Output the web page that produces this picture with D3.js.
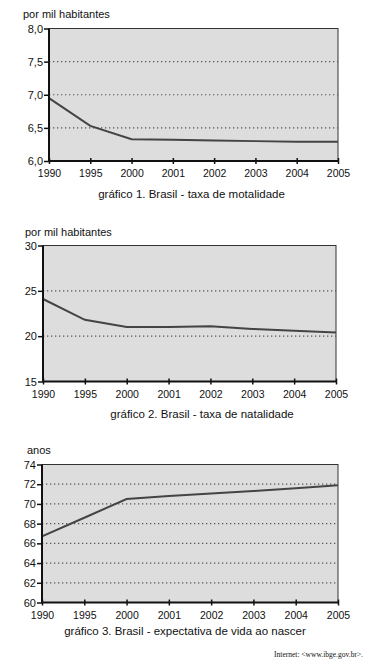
<!DOCTYPE html>
<html>
<head>
<meta charset="utf-8">
<script src="https://cdn.jsdelivr.net/npm/d3@7"></script>
<style>
  body { margin: 0; background: #fff; }
  svg text { font-family: "Liberation Sans", Arial, sans-serif; fill: #111; }
</style>
</head>
<body>
<svg id="chart" width="374" height="667"></svg>
<script>
// Data
var years = ["1990", "1995", "2000", "2001", "2002", "2003", "2004", "2005"];
var mortalidade = [6.95, 6.53, 6.33, 6.32, 6.31, 6.30, 6.29, 6.29];
var natalidade = [24.1, 21.8, 21.0, 21.0, 21.1, 20.8, 20.6, 20.4];
var expectativa = [66.7, 68.6, 70.5, 70.8, 71.05, 71.3, 71.6, 71.9];

var ticksMort = [6.0, 6.5, 7.0, 7.5, 8.0];
var ticksNat = [15, 20, 25, 30];
var ticksVida = [60, 62, 64, 66, 68, 70, 72, 74];

var svg = d3.select("#chart");

// comma decimal like the original
var fmtComma = function(d) { return d3.format(".1f")(d).replace(".", ","); };
var fmtInt = d3.format("d");

function drawChart(cfg) {
    var x = d3.scalePoint().domain(years).range([cfg.left, cfg.right]);
    var y = d3.scaleLinear().domain(d3.extent(cfg.ticks)).range([cfg.bottom, cfg.top]);

    var g = svg.append("g");

    // plot background
    g.append("rect")
        .attr("x", cfg.left)
        .attr("y", cfg.top)
        .attr("width", cfg.right - cfg.left)
        .attr("height", cfg.bottom - cfg.top)
        .attr("fill", "#dddddd")
        .attr("stroke", "#333")
        .attr("stroke-width", 1);

    // dotted grid lines
    g.selectAll(".grid")
        .data(cfg.grid)
        .enter().append("line")
        .attr("x1", cfg.left)
        .attr("x2", cfg.right)
        .attr("y1", function(d) { return y(d); })
        .attr("y2", function(d) { return y(d); })
        .attr("stroke", "#555")
        .attr("stroke-width", 1.2)
        .attr("stroke-dasharray", "1.3,2.7");

    // the series line
    g.append("path")
        .datum(cfg.values)
        .attr("fill", "none")
        .attr("stroke", "#444")
        .attr("stroke-width", 2)
        .attr("d", d3.line()
            .x(function(d, i) { return x(years[i]); })
            .y(function(d) { return y(d); }));

    // y axis
    var yAxis = g.append("g")
        .attr("transform", "translate(" + cfg.left + ",0)")
        .call(d3.axisLeft(y).tickValues(cfg.ticks).tickSize(5).tickPadding(1).tickFormat(cfg.format));
    yAxis.select(".domain").remove();
    yAxis.selectAll("line").attr("stroke", "#111").attr("stroke-width", 1.5);
    yAxis.selectAll("text").attr("font-size", 11).attr("fill", "#111");

    // x axis
    var xAxis = g.append("g")
        .attr("transform", "translate(0," + cfg.bottom + ")")
        .call(d3.axisBottom(x).tickSize(3).tickPadding(6));
    xAxis.select(".domain").remove();
    xAxis.selectAll("line").attr("y1", -3).attr("stroke", "#111").attr("stroke-width", 1.5);
    xAxis.selectAll("text").attr("font-size", 10.5).attr("fill", "#111");

    // thick left and bottom axis lines
    g.append("line")
        .attr("x1", cfg.left).attr("x2", cfg.left)
        .attr("y1", cfg.top).attr("y2", cfg.bottom)
        .attr("stroke", "#111").attr("stroke-width", 2);
    g.append("line")
        .attr("x1", cfg.left).attr("x2", cfg.right)
        .attr("y1", cfg.bottom).attr("y2", cfg.bottom)
        .attr("stroke", "#111").attr("stroke-width", 2);

    // unit label
    g.append("text")
        .attr("x", cfg.unitX)
        .attr("y", cfg.unitY)
        .attr("font-size", 11)
        .text(cfg.unit);

    // caption
    g.append("text")
        .attr("x", cfg.captionX)
        .attr("y", cfg.captionY)
        .attr("text-anchor", "middle")
        .attr("font-size", 11.5)
        .text(cfg.caption);
}

drawChart({
    values: mortalidade, ticks: ticksMort, grid: [6.5, 7.0, 7.5], format: fmtComma,
    left: 49, right: 338, top: 28.5, bottom: 161,
    unit: "por mil habitantes", unitX: 23, unitY: 18,
    caption: "gráfico 1. Brasil - taxa de motalidade", captionX: 191.5, captionY: 198
});

drawChart({
    values: natalidade, ticks: ticksNat, grid: [20, 25], format: fmtInt,
    left: 43, right: 336, top: 245.5, bottom: 381.5,
    unit: "por mil habitantes", unitX: 25, unitY: 236,
    caption: "gráfico 2. Brasil - taxa de natalidade", captionX: 202, captionY: 417.5
});

drawChart({
    values: expectativa, ticks: ticksVida, grid: [62, 64, 66, 68, 70, 72], format: fmtInt,
    left: 42, right: 338, top: 464.5, bottom: 602.5,
    unit: "anos", unitX: 27, unitY: 454,
    caption: "gráfico 3. Brasil - expectativa de vida ao nascer", captionX: 185, captionY: 635
});

// source note
svg.append("text")
    .attr("x", 363)
    .attr("y", 657)
    .attr("text-anchor", "end")
    .attr("font-size", 7.5)
    .style("font-family", "'Liberation Serif', 'Times New Roman', serif")
    .text("Internet: <www.ibge.gov.br>.");
</script>
</body>
</html>
